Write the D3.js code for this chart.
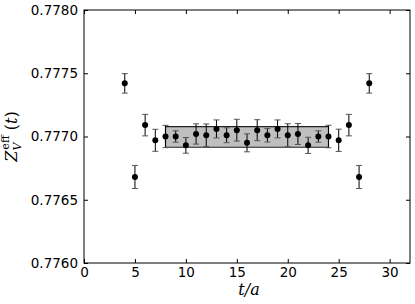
<!DOCTYPE html>
<html>
<head>
<meta charset="utf-8">
<script src="https://cdn.jsdelivr.net/npm/d3@7"></script>
<style>
  body { margin: 0; background: #fff; }
  text { font-family: "DejaVu Sans", sans-serif; }
</style>
</head>
<body>
<script>
// effective Z_V per timeslice
var tVals = [4, 5, 6, 7, 8, 9, 10, 11, 12, 13, 14, 15, 16, 17, 18, 19, 20, 21, 22, 23, 24, 25, 26, 27, 28];
var zVals = [0.77742, 0.77668, 0.77709, 0.77697, 0.77700, 0.77700, 0.77693, 0.77702, 0.77701, 0.77706,
             0.77701, 0.77705, 0.77695, 0.77705, 0.77701, 0.77706, 0.77701, 0.77702, 0.77693, 0.77700,
             0.77700, 0.77697, 0.77709, 0.77668, 0.77742];
var zErrs = [0.000077, 0.000091, 0.000085, 0.000087, 0.000088, 0.000045, 0.000062, 0.000080, 0.000089, 0.000071,
             0.000059, 0.000086, 0.000071, 0.000083, 0.000054, 0.000071, 0.000091, 0.000083, 0.000064, 0.000045,
             0.000089, 0.000088, 0.000085, 0.000091, 0.000077];
// fit band
var fitRange = [8, 24];
var fitBand = [0.776915, 0.777078];
var xTicks = [0, 5, 10, 15, 20, 25, 30];
var yTicks = [0.7760, 0.7765, 0.7770, 0.7775, 0.7780];

var margin = {top: 10, right: 5, bottom: 41, left: 84},
  width = 415 - margin.left - margin.right,
  height = 304 - margin.top - margin.bottom;

var x = d3.scaleLinear().domain([0, 32]).range([0, width]);
var y = d3.scaleLinear().domain([0.7760, 0.7780]).range([height, 0]);

var svg = d3.select("body").append("svg")
  .attr("width", 415).attr("height", 304)
  .append("g")
  .attr("transform", "translate(" + margin.left + "," + margin.top + ")");

// band
svg.append("rect")
  .attr("x", x(fitRange[0])).attr("width", x(fitRange[1]) - x(fitRange[0]))
  .attr("y", y(fitBand[1])).attr("height", y(fitBand[0]) - y(fitBand[1]))
  .attr("fill", "#bfbfbf").attr("stroke", "none");
[fitBand[0], fitBand[1]].forEach(function(v) {
  svg.append("line")
    .attr("x1", x(fitRange[0])).attr("x2", x(fitRange[1]))
    .attr("y1", y(v)).attr("y2", y(v))
    .attr("stroke", "#222").attr("stroke-width", 1.2);
});
[fitRange[0], fitRange[1]].forEach(function(v) {
  svg.append("line")
    .attr("x1", x(v)).attr("x2", x(v))
    .attr("y1", y(fitBand[0])).attr("y2", y(fitBand[1]))
    .attr("stroke", "#222").attr("stroke-width", 1.2);
});

var pts = tVals.map(function(t, i) { return {t: t, v: zVals[i], e: zErrs[i]}; });

var eb = svg.append("g").selectAll("g").data(pts).enter().append("g");
eb.append("line")
  .attr("x1", function(d) { return x(d.t); }).attr("x2", function(d) { return x(d.t); })
  .attr("y1", function(d) { return y(d.v - d.e); }).attr("y2", function(d) { return y(d.v + d.e); })
  .attr("stroke", "#000").attr("stroke-width", 1);
[-1, 1].forEach(function(s) {
  eb.append("line")
    .attr("x1", function(d) { return x(d.t) - 3; }).attr("x2", function(d) { return x(d.t) + 3; })
    .attr("y1", function(d) { return y(d.v + s * d.e); }).attr("y2", function(d) { return y(d.v + s * d.e); })
    .attr("stroke", "#555").attr("stroke-width", 1);
});
eb.append("circle")
  .attr("cx", function(d) { return x(d.t); }).attr("cy", function(d) { return y(d.v); })
  .attr("r", 3).attr("fill", "#000");

// axes, matplotlib style ticks inside on all sides
svg.append("g").attr("transform", "translate(0," + height + ")")
  .call(d3.axisBottom(x).tickValues(xTicks).tickSize(-4).tickPadding(4).tickFormat(d3.format("d")))
  .call(function(g) { g.select(".domain").remove(); });
svg.append("g")
  .call(d3.axisTop(x).tickValues(xTicks).tickSize(-4).tickFormat(""))
  .call(function(g) { g.select(".domain").remove(); });
svg.append("g")
  .call(d3.axisLeft(y).tickValues(yTicks).tickSize(-4).tickPadding(6).tickFormat(d3.format(".4f")))
  .call(function(g) { g.select(".domain").remove(); });
svg.append("g").attr("transform", "translate(" + width + ",0)")
  .call(d3.axisRight(y).tickValues(yTicks).tickSize(-4).tickFormat(""))
  .call(function(g) { g.select(".domain").remove(); });

svg.selectAll(".tick text").attr("font-size", 13.5).attr("fill", "#000")
  .attr("font-family", "DejaVu Sans, sans-serif");
svg.selectAll(".tick line").attr("stroke", "#000");

svg.append("rect").attr("width", width).attr("height", height)
  .attr("fill", "none").attr("stroke", "#000").attr("stroke-width", 1);

// labels
svg.append("text")
  .attr("x", width / 2 + 2).attr("y", height + 32)
  .attr("text-anchor", "middle")
  .style("font-family", "DejaVu Serif, serif").style("font-style", "italic").style("font-size", "16px")
  .text("t/a");

var yl = svg.append("text")
  .attr("transform", "translate(-67," + height / 2 + ") rotate(-90)")
  .attr("text-anchor", "middle")
  .style("font-family", "DejaVu Serif, serif").style("font-size", "16px");
yl.append("tspan").style("font-style", "italic").text("Z");
yl.append("tspan").attr("dy", 4).style("font-size", "11px").style("font-style", "italic").text("V");
yl.append("tspan").attr("dx", -7).attr("dy", -12).style("font-size", "11px").text("eff");
yl.append("tspan").attr("dy", 8).text(" (");
yl.append("tspan").style("font-style", "italic").text("t");
yl.append("tspan").text(")");
</script>
</body>
</html>
